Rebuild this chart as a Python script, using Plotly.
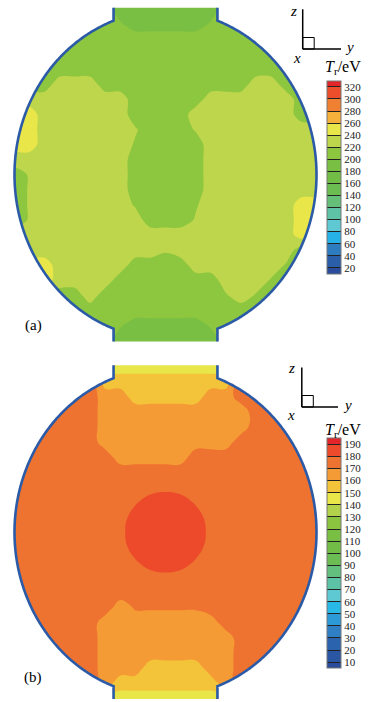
import numpy as np
import plotly.graph_objects as go

# ---------------- data ----------------
# sample grid (units of the equatorial radius): horizontal y, vertical z
Y_GRID = [round(-1.1 + 0.1 * i, 1) for i in range(23)]
Z_GRID = [round(1.2 - 0.1 * j, 1) for j in range(25)]   # top row first

# panel (a) T_r, one character per grid cell (eV codes)
CODE_A = {"g": 190, "k": 202, "G": 210, "h": 218, "l": 222, "L": 230, "Y": 250, "O": 270}
TR_A_ROWS = [
    "GGGGGGGGgggggggGGGGGGGG",
    "GGGGGGGGgggggggGGGGGGGG",
    "GGGGGGGGkgggggkGGGGGGGG",
    "GGGGGGGGGGGGGGGGGGGGGGG",
    "GGGGGGGGGGGGGGGGGGGGGGG",
    "GGGGGGGGGGGGGGGGGGGGGGG",
    "GGGGLLLGGGGGGGGGGLLGGGG",
    "LLLLLLLLLGGGGGLLLLLLGGG",
    "YYYLLLLLLGGGGLLLLLLLGGG",
    "OOYLLLLLLlGGGlLLLLLLLLL",
    "YYYLLLLLLhGGGGLLLLLLLLL",
    "LLLLLLLLLGGGGGLLLLLLLLL",
    "GGlLLLLLLGGGGGLLLLLLLLL",
    "GGlLLLLLLGGGGGLLLLLLLLL",
    "GGlLLLLLLhGGGhLLLLLLYYY",
    "GGlLLLLLLLGGGlLLLLLLYYY",
    "LLLLLLLLLLLLLLLLLLLLYYY",
    "LLLLLLLLLLLlLLLLLLLLGGG",
    "YYYYLLLLLGGGGLLLLLLhGGG",
    "YYYYLLLLGGGGGGGLLLhGGGG",
    "GGGGGGLGGGGGGGGhLhGGGGG",
    "GGGGGGGGGGGGGGGGGGGGGGG",
    "GGGGGGGGkgggggkGGGGGGGG",
    "GGGGGGGGgggggggGGGGGGGG",
    "GGGGGGGGgggggggGGGGGGGG",
]

# panel (b)
CODE_B = {"Y": 145, "y": 155, "p": 165, "n": 171, "o": 175,
          "q": 177.5, "w": 178.5, "R": 185}
TR_B_ROWS = [
    "YYYYYYYYYYYYYYYYYYYYYYY",
    "YYYYYYYYYYYYYYYYYYYYYYY",
    "oooooooyyyyyyyyyooooooo",
    "oooooooppyyyyyppooooooo",
    "oooooooppppppppppoooooo",
    "oooooooppppppppppoooooo",
    "ooooooopppppppppooooooo",
    "oooooooopppppoooooooooo",
    "ooooooooooooooooooooooo",
    "oooooooooooqooooooooooo",
    "ooooooooowRRRwooooooooo",
    "oooooooooRRRRRooooooooo",
    "ooooooooqRRRRRqoooooooo",
    "oooooooooRRRRRooooooooo",
    "ooooooooowRRRwooooooooo",
    "oooooooooooqooooooooooo",
    "ooooooooooooooooooooooo",
    "oooooooopnnnnnooooooooo",
    "oooooooppppppppoooooooo",
    "ooooooopppppppppooooooo",
    "ooooooopppppppppooooooo",
    "ooooooopppyyyyppooooooo",
    "ooooooopyyyyyyypooooooo",
    "YYYYYYYYYYYYYYYYYYYYYYY",
    "YYYYYYYYYYYYYYYYYYYYYYY",
]

TICKS_A = list(range(20, 321, 20))
TICKS_B = list(range(10, 191, 10))

COLORS_A = ["#2a4c9a", "#2b5ea9", "#2e7cc0", "#26b2e6", "#5fc9d3", "#5ec3a6",
            "#66bf78", "#6bbc51", "#72bd45", "#79bf43", "#8dc63f", "#bdd64b",
            "#e9e64a", "#f4b03a", "#f08032", "#ec4d2b", "#e3252a"]
COLORS_B = ["#2a4c9a", "#2b56a3", "#2c63ae", "#2e7fc3", "#2b9ad6", "#28b9e7",
            "#5ec9d3", "#5dc3a7", "#63bf7d", "#6bbc53", "#72bd45", "#79bf43",
            "#8bc53f", "#b2d24b", "#e9e64a", "#f3c43a", "#f59b35", "#ef7330",
            "#ec4a2a", "#e3242a"]

for r in TR_A_ROWS + TR_B_ROWS:
    assert len(r) == len(Y_GRID), r
assert len(TR_A_ROWS) == len(Z_GRID) and len(TR_B_ROWS) == len(Z_GRID)

# ---------------- geometry (hohlraum outline) ----------------
W, H = 376, 702
A_HALF = 0.344      # laser entrance hole half width
B_AX = 1.086        # vertical semi-axis
Z_END = 1.105       # end of the LEH channel


def decode(rows, code):
    m = np.array([[code[ch] for ch in r] for r in rows], dtype=float)
    return m[::-1]


z_sorted = Z_GRID[::-1]

tj = np.arccos(A_HALF)
zj = B_AX * np.sin(tj)
t = np.linspace(tj, -tj, 240)
rx = [A_HALF, A_HALF] + list(np.cos(t)) + [A_HALF, A_HALF]
rz = [Z_END, zj] + list(B_AX * np.sin(t)) + [-zj, -Z_END]
lx = [-v for v in rx]
lz = rz


def path_of(xs, zs, close=False):
    s = "M " + " L ".join(f"{x:.5f},{z:.5f}" for x, z in zip(xs, zs))
    return s + (" Z" if close else "")


# closed hohlraum polygon
hx = [-A_HALF] + rx + [-A_HALF] + lx[::-1][1:]
hz = [Z_END] + rz + [-Z_END] + lz[::-1][1:]
mask_path = "M -6,-6 L 6,-6 L 6,6 L -6,6 Z " + path_of(hx, hz, close=True)


def px2x(p):
    return p / W


def py2y(p):
    return 1 - p / H


def cscale(cols):
    n = len(cols) - 1
    return [[i / n, c] for i, c in enumerate(cols)]


fig = go.Figure()

SERIF = "Liberation Serif, Times New Roman, serif"

panels = [
    dict(rows=TR_A_ROWS, code=CODE_A, ticks=TICKS_A, cols=COLORS_A, step=20,
         xa="x", ya="y", cb_y=177.35, cb_len=193.3, smooth=0.8),
    dict(rows=TR_B_ROWS, code=CODE_B, ticks=TICKS_B, cols=COLORS_B, step=10,
         xa="x2", ya="y2", cb_y=553.25, cb_len=229.7, smooth=1.3),
]

for p in panels:
    fig.add_trace(go.Contour(
        x=Y_GRID, y=z_sorted, z=decode(p["rows"], p["code"]),
        xaxis=p["xa"], yaxis=p["ya"],
        autocontour=False,
        contours=dict(start=p["ticks"][0], end=p["ticks"][-1], size=p["step"],
                      coloring="fill", showlines=False),
        line=dict(width=0, smoothing=p["smooth"]),
        colorscale=cscale(p["cols"]),
        hoverinfo="skip",
        colorbar=dict(
            x=px2x(327), xanchor="left", xpad=0,
            y=py2y(p["cb_y"]), yanchor="middle", ypad=0,
            len=p["cb_len"], lenmode="pixels",
            thickness=14, thicknessmode="pixels",
            outlinewidth=1, outlinecolor="#777",
            tickmode="array", tickvals=p["ticks"],
            ticktext=[str(v) for v in p["ticks"]],
            ticks="inside", ticklen=14, tickwidth=0.8, tickcolor="#222",
            tickfont=dict(family=SERIF, size=11, color="#222"),
        ),
    ))

shapes = []
for xa, ya in (("x", "y"), ("x2", "y2")):
    shapes.append(dict(type="path", xref=xa, yref=ya, path=mask_path,
                       fillcolor="white", fillrule="evenodd",
                       line=dict(width=0), layer="above"))
    for xs, zs in ((rx, rz), (lx, lz)):
        shapes.append(dict(type="path", xref=xa, yref=ya, path=path_of(xs, zs),
                           fillcolor="rgba(0,0,0,0)",
                           line=dict(color="#2b5aa7", width=2.6), layer="above"))

annotations = []
icons = [
    dict(x0=302.7, ytop=9.3, ybot=49, xr=341, sq=11.5, z=(293, 11), y=(349, 47), x=(297, 58),
         title=68, lab="(a)", laby=325.7),
    dict(x0=301.8, ytop=367.5, ybot=407, xr=338, sq=11.5, z=(291.5, 368), y=(347, 405), x=(291, 415),
         title=430, lab="(b)", laby=677),
]
for ic in icons:
    shapes.append(dict(type="line", xref="paper", yref="paper",
                       x0=px2x(ic["x0"]), x1=px2x(ic["x0"]),
                       y0=py2y(ic["ytop"]), y1=py2y(ic["ybot"]),
                       line=dict(color="black", width=1.5)))
    shapes.append(dict(type="line", xref="paper", yref="paper",
                       x0=px2x(ic["x0"]), x1=px2x(ic["xr"]),
                       y0=py2y(ic["ybot"]), y1=py2y(ic["ybot"]),
                       line=dict(color="black", width=1.5)))
    shapes.append(dict(type="rect", xref="paper", yref="paper",
                       x0=px2x(ic["x0"]), x1=px2x(ic["x0"] + ic["sq"]),
                       y0=py2y(ic["ybot"]), y1=py2y(ic["ybot"] - ic["sq"]),
                       line=dict(color="black", width=1)))
    for key in ("z", "y", "x"):
        annotations.append(dict(text=f"<i>{key}</i>", xref="paper", yref="paper",
                                x=px2x(ic[key][0]), y=py2y(ic[key][1]),
                                showarrow=False, xanchor="center", yanchor="middle",
                                font=dict(family=SERIF, size=15, color="black")))
    annotations.append(dict(text="<i>T</i><sub>r</sub>/eV", xref="paper", yref="paper",
                            x=px2x(343), y=py2y(ic["title"]), showarrow=False,
                            xanchor="center", yanchor="middle",
                            font=dict(family=SERIF, size=16, color="black")))
    annotations.append(dict(text=ic["lab"], xref="paper", yref="paper",
                            x=px2x(33), y=py2y(ic["laby"]), showarrow=False,
                            xanchor="center", yanchor="middle",
                            font=dict(family=SERIF, size=15, color="black")))

ax_common = dict(visible=False, showgrid=False, zeroline=False, fixedrange=True)
fig.update_layout(
    width=W, height=H, margin=dict(l=0, r=0, t=0, b=0),
    paper_bgcolor="white", plot_bgcolor="white", showlegend=False,
    xaxis=dict(domain=[0, 1], range=[-165.5 / 151, 210.5 / 151], anchor="y", **ax_common),
    yaxis=dict(domain=[1 - 350 / H, 1], range=[-1.161, 1.157], anchor="x", **ax_common),
    xaxis2=dict(domain=[0, 1], range=[-165.5 / 151, 210.5 / 151], anchor="y2", **ax_common),
    yaxis2=dict(domain=[0, 347 / H], range=[-1.1245, 1.1735], anchor="x2", **ax_common),
    shapes=shapes, annotations=annotations,
)

fig.write_html("out.html")
